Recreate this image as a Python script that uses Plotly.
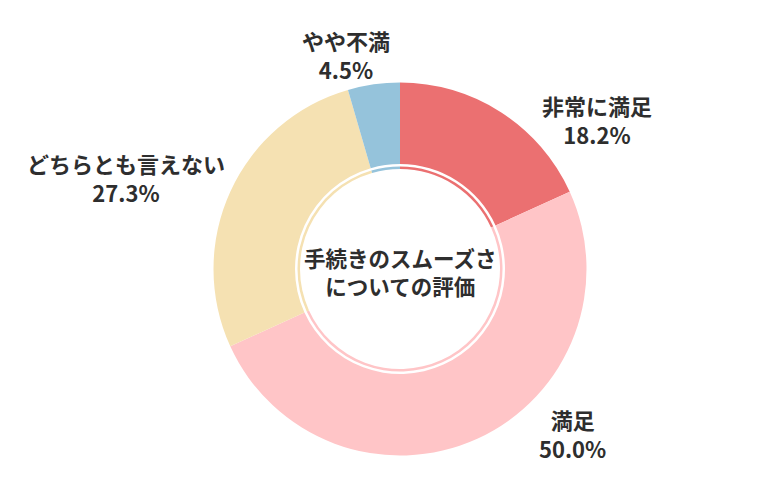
import plotly.graph_objects as go

# data
labels = ["非常に満足", "満足", "どちらとも言えない", "やや不満"]
values = [18.2, 50.0, 27.3, 4.5]
colors = ["#EB7071", "#FFC5C7", "#F5E1B2", "#95C3DB"]
center_title = ["手続きのスムーズさ", "についての評価"]

W, H = 780, 500
OFF = 8                    # page body margin
cx, cy = 400 - OFF, 269 - OFF   # pie centre in px (from top-left)
r_out, r_in = 186.5, 105   # donut radii
r_ring, ring_w = 102.5, 2.5

def dom(r):
    return dict(x=[(cx - r) / W, (cx + r) / W],
                y=[(H - cy - r) / H, (H - cy + r) / H])

def px(x, y):
    return (x - OFF) / W, 1 - (y - OFF) / H

fig = go.Figure()

fig.add_trace(go.Pie(
    labels=labels, values=values, sort=False, direction="clockwise",
    rotation=0, hole=r_in / r_out, domain=dom(r_out),
    marker=dict(colors=colors, line=dict(width=0)),
    textinfo="none", hoverinfo="label+percent", showlegend=False,
))

# thin inner ring with the same split
fig.add_trace(go.Pie(
    labels=labels, values=values, sort=False, direction="clockwise",
    rotation=0, hole=(r_ring - ring_w) / r_ring, domain=dom(r_ring),
    marker=dict(colors=colors, line=dict(width=0)),
    textinfo="none", hoverinfo="skip", showlegend=False,
))

# outside labels: centre of the two-line block (reference px)
label_pos = [(597, 119.5), (572, 433.5), (126, 177), (346, 55)]
font = dict(family="Noto Sans CJK JP", size=22, color="#2e2e2e")
for lab, val, (x0, y0) in zip(labels, values, label_pos):
    ax, ay = px(x0, y0)
    fig.add_annotation(
        text=f"<b>{lab}<br>{val:.1f}%</b>", x=ax, y=ay,
        xref="paper", yref="paper", showarrow=False, font=font,
        xanchor="center", yanchor="middle", align="center",
    )

ax, ay = px(400, 271)
fig.add_annotation(
    text="<b>" + "<br>".join(center_title) + "</b>", x=ax, y=ay,
    xref="paper", yref="paper", showarrow=False,
    xanchor="center", yanchor="middle", align="center",
    font=dict(family="Noto Sans CJK JP", size=21.5, color="#2e2e2e"),
)

fig.update_layout(
    width=W, height=H, margin=dict(l=0, r=0, t=0, b=0),
    paper_bgcolor="white", plot_bgcolor="white",
)

fig.write_html("out.html")
